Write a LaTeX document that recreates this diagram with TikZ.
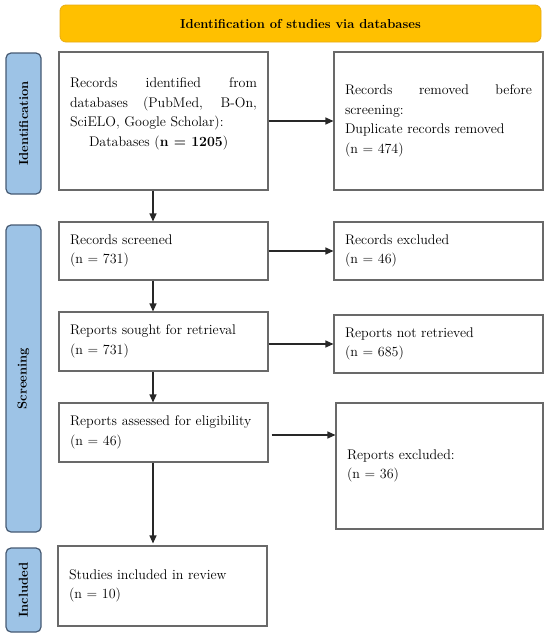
\documentclass[tikz,border=0pt]{standalone}
\usetikzlibrary{arrows.meta}
\definecolor{bannerfill}{RGB}{255,192,0}
\definecolor{bannerline}{RGB}{232,172,20}
\definecolor{sidefill}{RGB}{157,195,230}
\definecolor{sideline}{RGB}{70,90,115}
\definecolor{boxline}{RGB}{105,105,105}
\definecolor{arrline}{RGB}{40,40,40}
\hyphenpenalty=10000
\exhyphenpenalty=10000
\begin{document}
\hyphenpenalty=10000
\exhyphenpenalty=10000
\begin{tikzpicture}[x=1pt,y=-1pt,
  txtfont/.style={font=\fontsize{14}{19.5}\selectfont},
  box/.style={draw=boxline, line width=1.1pt, minimum width=209pt,
    inner xsep=11pt, inner ysep=0pt, text width=187pt, align=left, txtfont},
  plain/.style={inner sep=0pt, txtfont},
  side/.style={draw=sideline, fill=sidefill, line width=1.2pt, rounded corners=5pt,
    rotate=90, minimum height=35pt, inner sep=0pt, font=\fontsize{13}{15}\selectfont\bfseries},
  banner/.style={draw=bannerline, fill=bannerfill, line width=0.8pt, rounded corners=6pt,
    minimum width=481pt, minimum height=37pt, inner sep=0pt, font=\fontsize{13}{15}\selectfont\bfseries},
  arr/.style={draw=arrline, line width=1.2pt, -{Triangle[length=8pt,width=7pt]}}
]
\useasboundingbox (0,0) rectangle (550,637);

% banner and phase labels
\node[banner] (ban) at (300.5,23.5) {Identification of studies via databases};
\node[side, minimum width=141pt] (sid) at (23.5,123.5) {Identification};
\node[side, minimum width=307pt] (ssc) at (23.5,378.5) {Screening};
\node[side, minimum width=84pt] (sin) at (23.5,590) {Included};

% left column
\node[box, minimum height=138pt] (b1) at (163.5,121) {};
\node[plain, text width=187pt, align=justify, yshift=7pt] (b1t) at (b1.center)
  {Records identified from databases (PubMed, B-On, SciELO, Google Scholar):\\
   \hspace*{19pt}Databases (\textbf{n = 1205})};
\node[box, minimum height=58pt] (b2) at (163.5,251) {Records screened\\(n = 731)};
\node[box, minimum height=59pt] (b3) at (163.5,341.5) {Reports sought for retrieval\\(n = 731)};
\node[box, minimum height=59pt] (b4) at (163.5,432.5) {Reports assessed for eligibility\\(n = 46)};
\node[box, minimum height=80pt] (b5) at (162.5,586) {Studies included in review\\(n = 10)};

% right column
\node[box, minimum height=138pt, align=justify] (r1) at (438.5,121)
  {Records removed before screening:\\Duplicate records removed\\(n = 474)};
\node[box, minimum height=58pt] (r2) at (438.5,251) {Records excluded\\(n = 46)};
\node[box, minimum height=58pt] (r3) at (438.5,344) {Reports not retrieved\\(n = 685)};
\node[box, minimum height=126pt, minimum width=207pt, text width=185pt] (r4) at (439.5,466)
  {Reports excluded:\\(n = 36)};

% vertical arrows
\draw[arr] (153,0 |- b1.south) -- (153,0 |- b2.north);
\draw[arr] (153,0 |- b2.south) -- (153,0 |- b3.north);
\draw[arr] (153,0 |- b3.south) -- (153,0 |- b4.north);
\draw[arr] (153,0 |- b4.south) -- ([yshift=2pt]153,0 |- b5.north);

% horizontal arrows
\draw[arr] (b1.east) -- (r1.west);
\draw[arr] (b2.east) -- (r2.west);
\draw[arr] (b3.east |- r3.west) -- (r3.west);
\draw[arr] ([xshift=3pt]b4.east |- 0,435) -- (r4.west |- 0,435);
\end{tikzpicture}
\end{document}
